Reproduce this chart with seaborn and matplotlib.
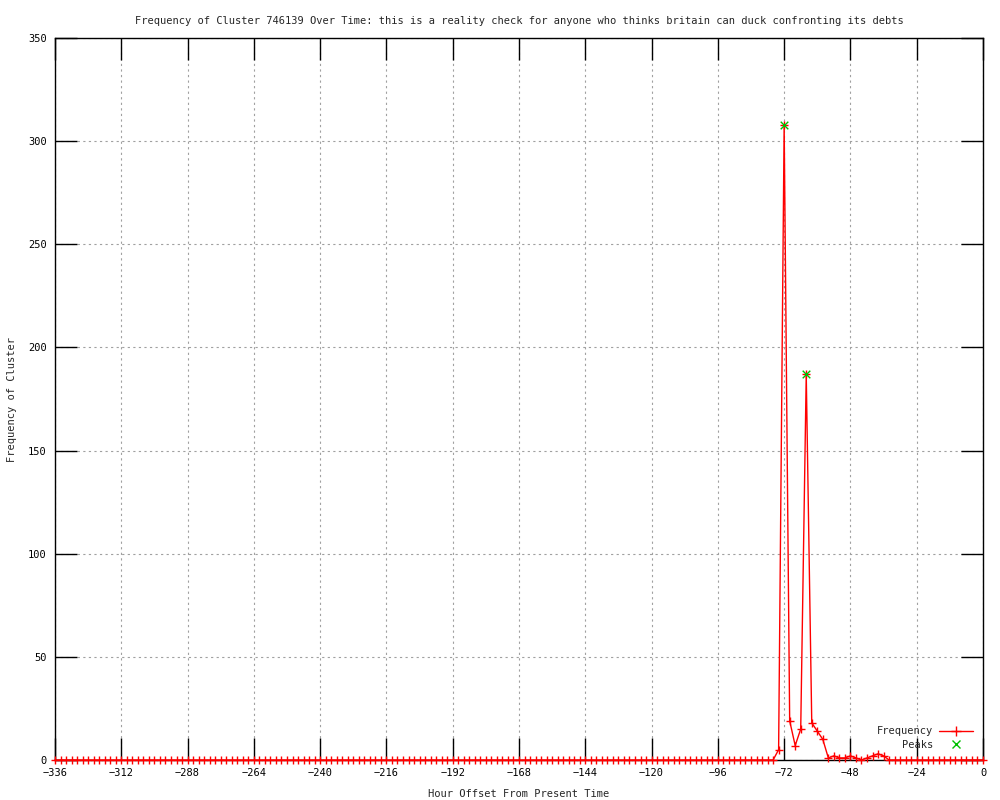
import numpy as np
import pandas as pd
import seaborn as sns
import matplotlib.pyplot as plt
from matplotlib.lines import Line2D

# hour offsets, one sample every 2 hours
hours = list(range(-336, 1, 2))

# non-zero frequencies, everything else is 0
active_hours = [-74, -72, -70, -68, -66, -64, -62, -60, -58, -56, -54, -52,
                -50, -48, -46, -44, -42, -40, -38, -36]
active_freq = [5, 308, 19, 7, 15, 187, 18, 14, 10, 1, 2, 1,
               1, 2, 1, 0, 1, 2, 3, 2]

peak_hours = [-72, -64]
peak_freq = [308, 187]

title = ("Frequency of Cluster 746139 Over Time: this is a reality check "
         "for anyone who thinks britain can duck confronting its debts")

freq = dict(zip(active_hours, active_freq))
df = pd.DataFrame({'hour': hours, 'freq': [freq.get(h, 0) for h in hours]})
peaks = pd.DataFrame({'hour': peak_hours, 'freq': peak_freq})

sns.set_style("white")
plt.rcParams['font.family'] = ['DejaVu Sans Mono', 'DejaVu Sans']
plt.rcParams['font.size'] = 7.5

fig = plt.figure(figsize=(10, 8), dpi=100)
ax = fig.add_axes([0.055, 0.05, 0.928, 0.9025])

sns.lineplot(data=df, x='hour', y='freq', ax=ax, color='red', linewidth=1,
             marker='+', markersize=6, markeredgewidth=1, markeredgecolor='red',
             clip_on=False, zorder=4)
sns.scatterplot(data=peaks, x='hour', y='freq', ax=ax, color='#00c000',
                marker='x', s=30, linewidth=1, zorder=5)

ax.set_xlim(-336, 0)
ax.set_ylim(0, 350)
ax.set_xticks(range(-336, 1, 24))
ax.set_yticks(range(0, 351, 50))
ax.grid(True, color='#a0a0a0', linestyle=(0, (2, 3)), linewidth=0.8)
ax.tick_params(direction='in', length=16, width=1, top=True, right=True,
               bottom=True, left=True, colors='black', labelsize=7.5, pad=6)
for s in ax.spines.values():
    s.set_color('black')
    s.set_linewidth(1)

ax.set_title(title, fontsize=7.5, pad=10)
ax.set_xlabel('Hour Offset From Present Time', fontsize=7.5, labelpad=8)
ax.set_ylabel('Frequency of Cluster', fontsize=7.5, labelpad=8)

handles = [Line2D([], [], color='red', linewidth=1, marker='+', markersize=7),
           Line2D([], [], color='#00c000', linestyle='none', marker='x', markersize=6)]
ax.legend(handles, ['Frequency', 'Peaks'], loc='lower right', frameon=False,
          markerfirst=False, fontsize=7.5, handlelength=3.2, labelspacing=0.3,
          borderaxespad=0.6, handletextpad=0.6)

plt.savefig('out.png', dpi=100)
